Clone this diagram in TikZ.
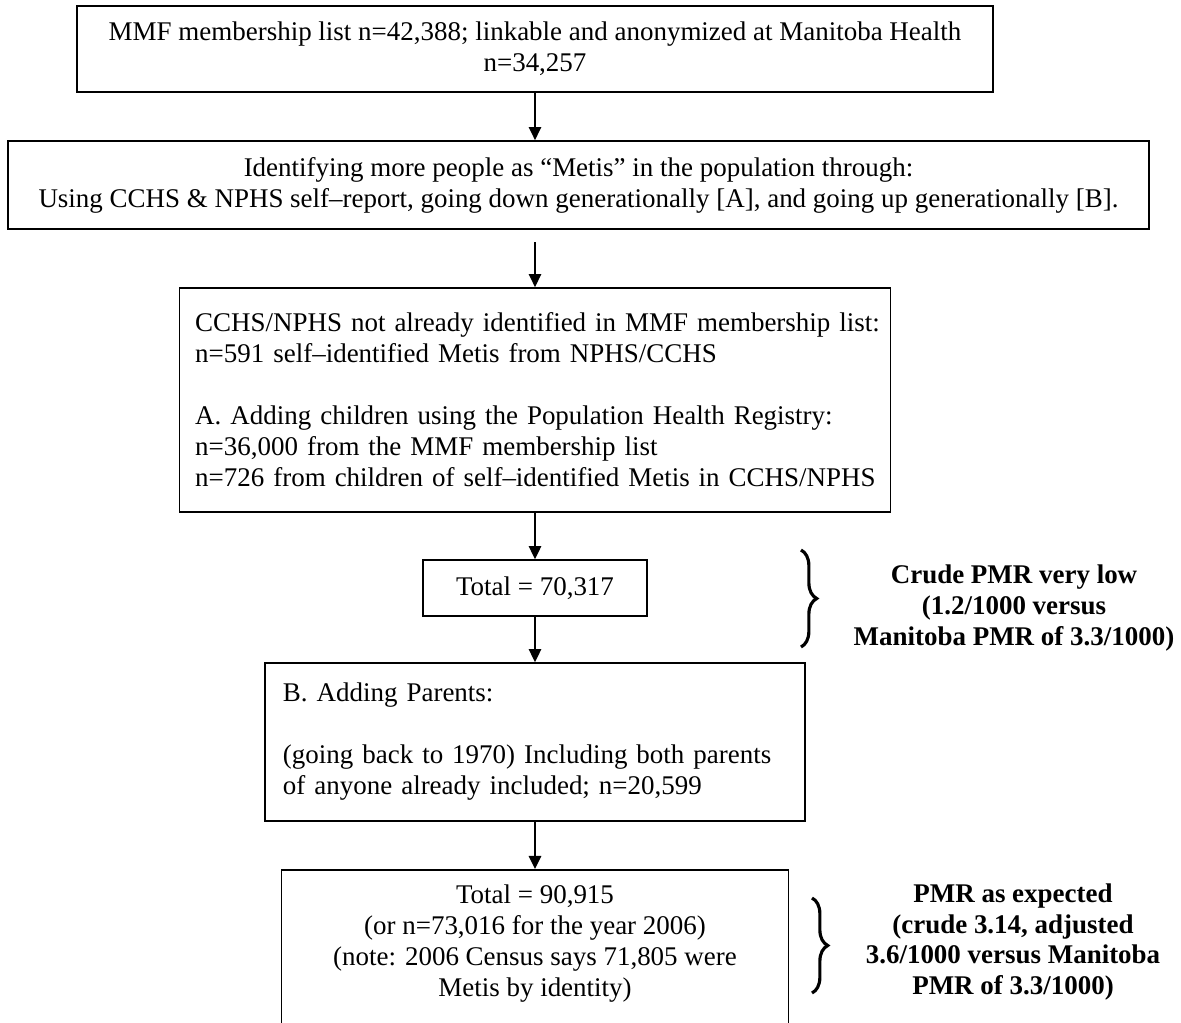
\documentclass[tikz,border=0pt]{standalone}
\usepackage{fontspec}
\setmainfont{Liberation Serif}
\usetikzlibrary{arrows.meta,decorations.pathreplacing}
\begin{document}
\begin{tikzpicture}[x=0.445pt,y=-0.445pt,
  box/.style={draw, line width=0.75pt, inner sep=0pt, font=\fontsize{12}{13.8}\selectfont},
  lbox/.style={box, align=left},
  txt/.style={inner sep=0pt, align=center, font=\fontsize{12}{13.8}\selectfont},
  arr/.style={-{Triangle[length=5.8pt,width=5.5pt]}, line width=0.7pt},
  brtext/.style={inner sep=0pt, align=center, font=\fontsize{12}{13.6}\selectfont\bfseries},
  brc/.style={decorate, decoration={brace, amplitude=7pt}, line width=1.4pt}]
\useasboundingbox (0,0) rectangle (1181,1022);
\path[clip] (0,0) rectangle (1181,1022);

\node[box, minimum width=407.6pt, minimum height=38.3pt, align=center] (b1) at (535,49)
  {MMF membership list n=42,388; linkable and anonymized at Manitoba Health\\n=34,257};

\node[box, minimum width=507.7pt, minimum height=39.2pt, align=center] (b2) at (578.5,185)
  {Identifying more people as “Metis” in the population through:\\Using CCHS \& NPHS self–report, going down generationally [A], and going up generationally [B].};

\node[lbox, inner xsep=7pt, text width=302.4pt, minimum height=99.7pt] (b3) at (535,400)
  {\mbox{CCHS/NPHS not already identified in MMF membership list:}\\
   \mbox{n=591 self–identified Metis from NPHS/CCHS}\\[13.8pt]
   \mbox{A. Adding children using the Population Health Registry:}\\
   \mbox{n=36,000 from the MMF membership list}\\
   \mbox{n=726 from children of self–identified Metis in CCHS/NPHS}};

\node[box, minimum width=99.7pt, minimum height=24.9pt, align=center] (b4) at (535,588)
  {Total = 70,317};

\node[lbox, inner xsep=8pt, text width=224.3pt, minimum height=70.3pt] (b5) at (535,742)
  {\mbox{B. Adding Parents:}\\[13.8pt]
   \mbox{(going back to 1970) Including both parents}\\
   \mbox{of anyone already included; n=20,599}};

\node[box, minimum width=225.6pt, minimum height=89pt, anchor=north] (b6) at (535,869) {};
\node[txt] (b6t) at (535,944)
  {Total = 90,915\\(or n=73,016 for the year 2006)\\(note: 2006 Census says 71,805 were\\Metis by identity)};

\coordinate (a2) at (535,242);
\draw[arr] (b1.south) -- (b1.south |- b2.north);
\draw[arr] (a2) -- (b3.north);
\draw[arr] (b3.south) -- (b4.north);
\draw[arr] (b4.south) -- (b5.north);
\draw[arr] (b5.south) -- (b6.north);

\draw[brc] (801,550) -- (801,647);
\draw[brc] (812,898) -- (812,993);

\node[brtext] (n1) at (1014,608) {Crude PMR very low\\(1.2/1000 versus\\Manitoba PMR of 3.3/1000)};
\node[brtext] (n2) at (1013,942) {PMR as expected\\(crude 3.14, adjusted\\3.6/1000 versus Manitoba\\PMR of 3.3/1000)};
\end{tikzpicture}
\end{document}
